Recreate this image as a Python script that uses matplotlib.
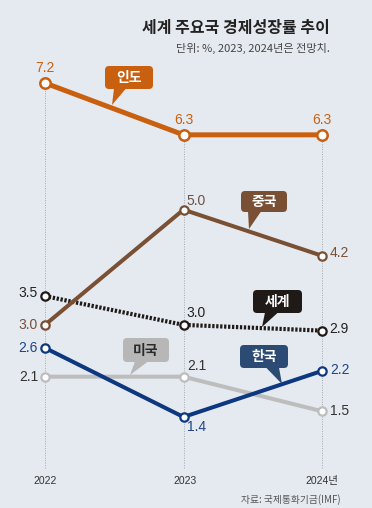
import matplotlib
matplotlib.use("Agg")
import matplotlib.pyplot as plt
from matplotlib.patches import FancyBboxPatch, Polygon

# ---------------- data ----------------
years = [2022, 2023, 2024]
tick_labels = ["2022", "2023", "2024년"]
india = [7.2, 6.3, 6.3]
china = [3.0, 5.0, 4.2]
world = [3.5, 3.0, 2.9]
usa = [2.1, 2.1, 1.5]
korea = [2.6, 1.4, 2.2]

title = "세계 주요국 경제성장률 추이"
subtitle = "단위: %, 2023, 2024년은 전망치."
source = "자료: 국제통화기금(IMF)"

# ---------------- style ----------------
BG = "#e5eaf0"
C_INDIA = "#c9600f"
C_CHINA = "#7a5034"
C_WORLD = "#1f1a17"
C_USA_LINE = "#bdbdbd"
C_USA_BOX = "#b7b7b7"
C_KOREA = "#0e3781"
C_KOREA_BOX = "#2b4b74"

KR = ["Noto Sans CJK KR", "DejaVu Sans"]
NUM = ["Liberation Sans", "DejaVu Sans"]

W, H = 372, 508
fig = plt.figure(figsize=(W / 100, H / 100), dpi=100, facecolor=BG)

# data axes spanning whole figure
ax = fig.add_axes([0, 0, 1, 1])
ax.set_facecolor(BG)
px_per_year = (322 - 45) / 2.0
ax.set_xlim(2022 - 45 / px_per_year, 2022 + (W - 45) / px_per_year)
px_per_unit = (417 - 83) / (7.2 - 1.4)
ax.set_ylim(7.2 - (H - 83) / px_per_unit, 7.2 + 83 / px_per_unit)
ax.axis("off")

# overlay axes in pixel coordinates for layout items
ov = fig.add_axes([0, 0, 1, 1], zorder=5)
ov.set_xlim(0, W)
ov.set_ylim(H, 0)
ov.axis("off")
ov.patch.set_alpha(0)

# vertical dotted guides
bottom_v = ax.get_ylim()[0] + (H - 468) / px_per_unit
tops = [max(s[i] for s in (india, china, world, usa, korea)) for i in range(3)]
ax.vlines(years, bottom_v, tops, colors="#a3a8ae", linestyles=(0, (1, 1.5)), lw=0.7, zorder=1)

# lines
ax.plot(years, usa, color=C_USA_LINE, lw=2.9, zorder=2, marker="o", ms=6,
        mfc="white", mec=C_USA_LINE, mew=1.6)
ax.plot(years, korea, color=C_KOREA, lw=2.9, zorder=3, marker="o", ms=6,
        mfc="white", mec=C_KOREA, mew=1.6)
ax.plot(years, world, color=C_WORLD, lw=3.0, zorder=3, dashes=(0.55, 0.4),
        dash_capstyle="butt")
ax.plot(years, world, lw=0, zorder=4, marker="o", ms=6, mfc="white", mec=C_WORLD, mew=1.6)
ax.plot(years, china, color=C_CHINA, lw=2.9, zorder=4, marker="o", ms=6,
        mfc="white", mec=C_CHINA, mew=1.6)
ax.plot(years, india, color=C_INDIA, lw=3.6, zorder=5, marker="o", ms=7.5,
        mfc="white", mec=C_INDIA, mew=1.8)

# value labels: (series, index, dx px, dy px (up+), ha, color)
def vlabel(series, i, dx, dy, ha, color):
    ax.annotate(f"{series[i]:.1f}", (years[i], series[i]),
                xytext=(dx * 0.72, dy * 0.72), textcoords="offset points",
                ha=ha, va="center", fontsize=10, color=color, family=NUM, zorder=6)

vlabel(india, 0, 0, 15, "center", C_INDIA)
vlabel(india, 1, 0, 15, "center", C_INDIA)
vlabel(india, 2, 0, 15, "center", C_INDIA)
vlabel(china, 0, -7, 0, "right", C_CHINA)
vlabel(china, 1, 3, 9, "left", "#6b5344")
vlabel(china, 2, 8, 3, "left", C_CHINA)
vlabel(world, 0, -7, 3, "right", "#222222")
vlabel(world, 1, 3, 12, "left", "#222222")
vlabel(world, 2, 7, 2, "left", "#222222")
vlabel(usa, 0, -7, 0, "right", "#333333")
vlabel(usa, 1, 4, 11, "left", "#333333")
vlabel(usa, 2, 8, 0, "left", "#333333")
vlabel(korea, 0, -7, 0, "right", "#1e4488")
vlabel(korea, 1, 4, -10, "left", "#1e4488")
vlabel(korea, 2, 8, 1, "left", "#1e4488")

# callouts
def callout(x0, y0, x1, y1, base, tip, color, text, tcolor="white"):
    box = FancyBboxPatch((x0, y0), x1 - x0, y1 - y0,
                         boxstyle="round,pad=0,rounding_size=4",
                         fc=color, ec="none", zorder=6)
    ov.add_patch(box)
    tri = Polygon([(base[0], y1 - 0.5), (base[1], y1 - 0.5), tip], closed=True,
                  fc=color, ec="none", zorder=6)
    ov.add_patch(tri)
    ov.text((x0 + x1) / 2, (y0 + y1) / 2 + 0.5, text, ha="center", va="center",
            color=tcolor, fontsize=10, fontweight="bold", family=KR, zorder=7)

callout(105, 66, 153, 89, (114, 126), (112, 105), C_INDIA, "인도")
callout(241, 191, 287, 212, (248, 261), (249, 229), C_CHINA, "중국")
callout(253, 290, 302, 313, (265, 278), (262, 327), C_WORLD, "세계")
callout(123, 338, 169, 362, (135, 148), (130, 375), C_USA_BOX, "미국", "#2a2a2a")
callout(240, 345, 288, 368, (266, 279), (282, 384), C_KOREA_BOX, "한국")

# titles
ov.text(330, 28, title, ha="right", va="center", fontsize=11.5, fontweight="bold",
        color="#222222", family=KR)
ov.text(330, 48, subtitle, ha="right", va="center", fontsize=8,
        color="#444444", family=KR)

# x tick labels
for x, lab in zip([45, 185, 322], tick_labels):
    ov.text(x, 481, lab, ha="center", va="center", fontsize=7.5, color="#333333",
            family=["Liberation Sans", "Noto Sans CJK KR"])

ov.text(341, 500, source, ha="right", va="center", fontsize=7, color="#555555", family=KR)

fig.savefig("out.png", dpi=100, facecolor=BG)
